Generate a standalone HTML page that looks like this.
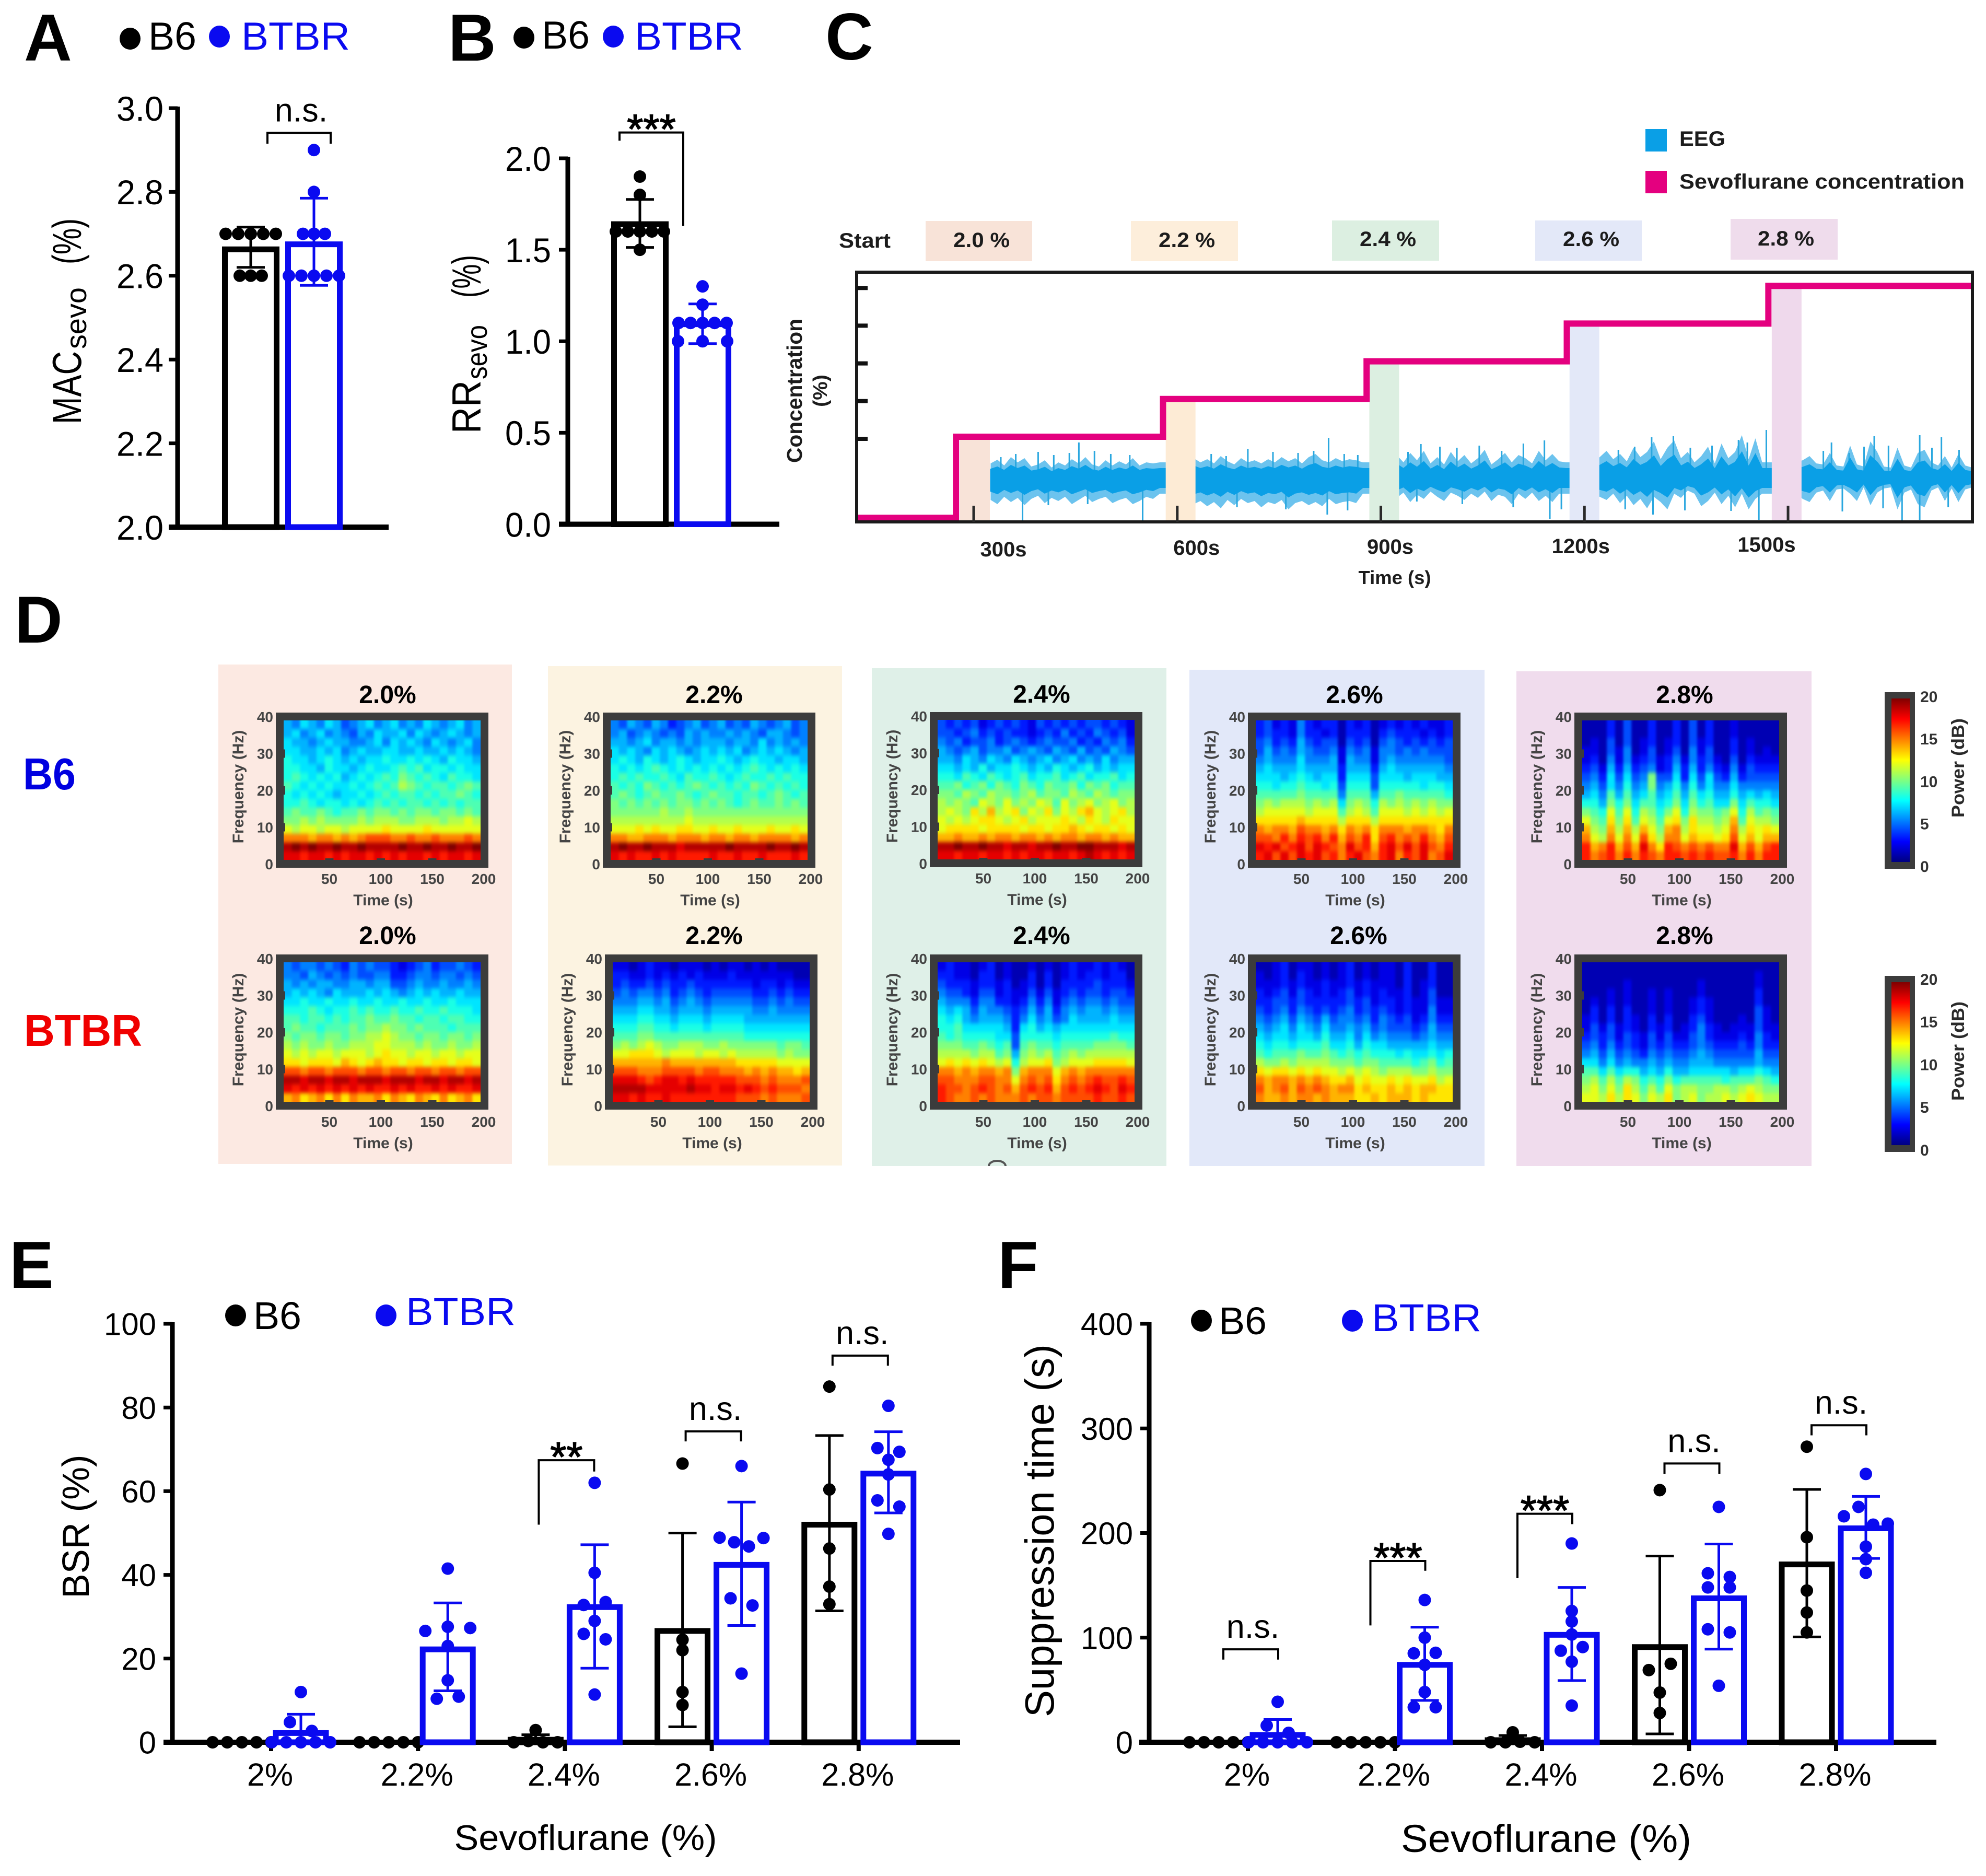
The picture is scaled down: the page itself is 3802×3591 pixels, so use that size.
<!DOCTYPE html>
<html lang="en">
<head>
<meta charset="utf-8">
<title>Sevoflurane sensitivity figure</title>
<style>
html,body{margin:0;padding:0;background:#fff;}
svg{display:block;font-family:"Liberation Sans",Arial,sans-serif;}
</style>
</head>
<body>
<svg id="figure" xmlns="http://www.w3.org/2000/svg" width="3802" height="3591" viewBox="0 0 3802 3591">
<defs>
<linearGradient id="jetGradient" x1="0" y1="0" x2="0" y2="1">
<stop offset="0" stop-color="#800000"/><stop offset="0.125" stop-color="#ff0000"/><stop offset="0.375" stop-color="#ffff00"/><stop offset="0.625" stop-color="#00ffff"/><stop offset="0.875" stop-color="#0000ff"/><stop offset="1" stop-color="#000080"/>
</linearGradient>
<filter id="specBlur" x="-5%" y="-5%" width="110%" height="110%" color-interpolation-filters="sRGB"><feGaussianBlur stdDeviation="2.5 4"/></filter>
</defs>
<rect width="3802" height="3591" fill="#fff"/>

<g font-weight="700" font-size="127" fill="#000">
<text x="46" y="116">A</text>
<text x="858" y="116">B</text>
<text x="1580" y="114">C</text>
<text x="28" y="1230">D</text>
<text x="18" y="2465">E</text>
<text x="1910" y="2465">F</text>
</g>

<g font-size="75">
<ellipse cx="249" cy="74" rx="20" ry="21" fill="#000"/>
<text x="284" y="95" textLength="92" lengthAdjust="spacingAndGlyphs">B6</text>
<ellipse cx="420" cy="70" rx="20" ry="21" fill="#0a0af0"/>
<text x="462" y="95" fill="#0a0af0" textLength="208" lengthAdjust="spacingAndGlyphs">BTBR</text>
</g>
<g font-size="75">
<ellipse cx="1003" cy="72" rx="20" ry="21" fill="#000"/>
<text x="1037" y="93" textLength="92" lengthAdjust="spacingAndGlyphs">B6</text>
<ellipse cx="1174" cy="70" rx="20" ry="21" fill="#0a0af0"/>
<text x="1215" y="95" fill="#0a0af0" textLength="208" lengthAdjust="spacingAndGlyphs">BTBR</text>
</g>
<g font-size="74">
<ellipse cx="451" cy="2518" rx="20" ry="21" fill="#000"/>
<text x="485" y="2544" textLength="92" lengthAdjust="spacingAndGlyphs">B6</text>
<ellipse cx="739" cy="2518" rx="20" ry="21" fill="#0a0af0"/>
<text x="777" y="2536" fill="#0a0af0" textLength="210" lengthAdjust="spacingAndGlyphs">BTBR</text>
</g>
<g font-size="74">
<ellipse cx="2300" cy="2528" rx="20" ry="21" fill="#000"/>
<text x="2333" y="2554" textLength="92" lengthAdjust="spacingAndGlyphs">B6</text>
<ellipse cx="2589" cy="2528" rx="20" ry="21" fill="#0a0af0"/>
<text x="2626" y="2548" fill="#0a0af0" textLength="210" lengthAdjust="spacingAndGlyphs">BTBR</text>
</g>

<g>
<text transform="translate(155,812) rotate(-90)" font-size="78" textLength="140" lengthAdjust="spacingAndGlyphs">MAC</text>
<text transform="translate(165,668) rotate(-90)" font-size="56" textLength="118" lengthAdjust="spacingAndGlyphs">sevo</text>
<text transform="translate(155,506) rotate(-90)" font-size="78" textLength="88" lengthAdjust="spacingAndGlyphs">(%)</text>
</g>
<g>
<text transform="translate(920,830) rotate(-90)" font-size="78" textLength="102" lengthAdjust="spacingAndGlyphs">RR</text>
<text transform="translate(932,726) rotate(-90)" font-size="56" textLength="104" lengthAdjust="spacingAndGlyphs">sevo</text>
<text transform="translate(920,570) rotate(-90)" font-size="78" textLength="82" lengthAdjust="spacingAndGlyphs">(%)</text>
</g>
<text transform="translate(170,2922) rotate(-90)" font-size="72" text-anchor="middle" textLength="275" lengthAdjust="spacingAndGlyphs">BSR (%)</text>
<text transform="translate(2017,2930) rotate(-90)" font-size="78" text-anchor="middle" textLength="714" lengthAdjust="spacingAndGlyphs">Suppression time (s)</text>
<text x="1121" y="3541" font-size="68" text-anchor="middle" textLength="503" lengthAdjust="spacingAndGlyphs">Sevoflurane (%)</text>
<text x="2960" y="3545" font-size="74" text-anchor="middle" textLength="556" lengthAdjust="spacingAndGlyphs">Sevoflurane (%)</text>

<g font-weight="700" font-size="40" fill="#1c1c1c">
<rect x="3150" y="247" width="41" height="43" fill="#0a9fe6"/>
<text x="3215" y="279" textLength="88" lengthAdjust="spacingAndGlyphs">EEG</text>
<rect x="3150" y="327" width="41" height="43" fill="#e4007f"/>
<text x="3215" y="361" textLength="546" lengthAdjust="spacingAndGlyphs">Sevoflurane concentration</text>
<text x="1606" y="474" textLength="99" lengthAdjust="spacingAndGlyphs">Start</text>
<rect x="1772" y="423" width="204" height="77" fill="#f8e3d8"/>
<text x="1879" y="473" text-anchor="middle" textLength="108" lengthAdjust="spacingAndGlyphs">2.0 %</text>
<rect x="2165" y="423" width="205" height="77" fill="#fdeedb"/>
<text x="2272" y="473" text-anchor="middle" textLength="108" lengthAdjust="spacingAndGlyphs">2.2 %</text>
<rect x="2550" y="422" width="205" height="77" fill="#dcefe1"/>
<text x="2657" y="471" text-anchor="middle" textLength="108" lengthAdjust="spacingAndGlyphs">2.4 %</text>
<rect x="2939" y="422" width="204" height="77" fill="#e3e8f8"/>
<text x="3046" y="471" text-anchor="middle" textLength="108" lengthAdjust="spacingAndGlyphs">2.6 %</text>
<rect x="3313" y="419" width="205" height="78" fill="#efdcec"/>
<text x="3419" y="470" text-anchor="middle" textLength="108" lengthAdjust="spacingAndGlyphs">2.8 %</text>
<text x="2670" y="1118" font-size="36" text-anchor="middle" textLength="139" lengthAdjust="spacingAndGlyphs">Time (s)</text>
<text transform="translate(1535,748) rotate(-90)" font-size="41" text-anchor="middle" textLength="276" lengthAdjust="spacingAndGlyphs">Concentration</text>
<text transform="translate(1583,748) rotate(-90)" font-size="38" text-anchor="middle" textLength="62" lengthAdjust="spacingAndGlyphs">(%)</text>
</g>

<g>
<rect x="418" y="1272" width="562" height="956" fill="#fce9e2"/>
<rect x="1049" y="1275" width="563" height="956" fill="#fcf3e1"/>
<rect x="1669" y="1279" width="564" height="953" fill="#dff0e8"/>
<rect x="2277" y="1282" width="565" height="950" fill="#e2e8f9"/>
<rect x="2903" y="1285" width="565" height="947" fill="#f0dced"/>
<path d="M1893 2232 A16 10 0 0 1 1925 2232" fill="none" stroke="#555" stroke-width="4"/>
</g>
<text x="44" y="1511" font-size="85" font-weight="700" fill="#0000e0" textLength="101" lengthAdjust="spacingAndGlyphs">B6</text>
<text x="46" y="2002" font-size="85" font-weight="700" fill="#f00000" textLength="226" lengthAdjust="spacingAndGlyphs">BTBR</text>
</svg>

<script>
/* ---------- Panel A data ---------- */
const aCategories = ['MAC'];
const aTickLabels = ['2.0','2.2','2.4','2.6','2.8','3.0'];
const aB6Mean = [2.663];
const aB6ErrHigh = [2.716];
const aB6ErrLow = [2.62];
const aB6Points = [[2.7,2.7,2.7,2.7,2.7,2.6,2.6,2.6]];
const aBtbrMean = [2.675];
const aBtbrErrHigh = [2.785];
const aBtbrErrLow = [2.577];
const aBtbrPoints = [[2.9,2.8,2.7,2.7,2.7,2.6,2.6,2.6,2.6,2.6]];
const aBrackets = [{cat:0,label:'n.s.',top:2.941,left:2.915,right:2.915}];

/* ---------- Panel B data ---------- */
const bCategories = ['RR'];
const bTickLabels = ['0.0','0.5','1.0','1.5','2.0'];
const bB6Mean = [1.64];
const bB6ErrHigh = [1.775];
const bB6ErrLow = [1.513];
const bB6Points = [[1.9,1.8,1.6,1.6,1.6,1.6,1.6,1.5]];
const bBtbrMean = [1.093];
const bBtbrErrHigh = [1.204];
const bBtbrErrLow = [0.987];
const bBtbrPoints = [[1.3,1.2,1.1,1.1,1.1,1.1,1.1,1.0,1.0,1.0]];
const bBrackets = [{cat:0,label:'***',top:2.141,left:2.096,right:1.63}];

/* ---------- Panel E data ---------- */
const eCategories = ['2%','2.2%','2.4%','2.6%','2.8%'];
const eTickLabels = ['0','20','40','60','80','100'];
const eB6Mean = [0,0,0.6,26.6,52];
const eB6ErrHigh = [0,0,1.8,50,73.3];
const eB6ErrLow = [0,0,0,3.7,31.4];
const eB6Points = [[0,0,0,0,0],[0,0,0,0,0],[2.9,0,0.3,0,0],[66.6,24.5,22,12,8.9],[85,60.4,46.3,37.2,33]];
const eBtbrMean = [2.2,22.2,32.3,42.4,64.2];
const eBtbrErrHigh = [6.7,33.3,47.2,57.4,74.2];
const eBtbrErrLow = [0,12.3,17.7,27.9,54.8];
const eBtbrPoints = [
  [12,4.8,2.7,0,0,0,0,0],
  [41.5,26.6,27.6,27.3,23,14.8,10.4,10.9],
  [62,40.5,32.8,33.5,29,25.9,24.6,11.4],
  [66,48.9,47.8,46.8,48.8,34.4,32.7,16.4],
  [80.4,70.3,69.4,67.5,64,57.8,56.3,49.8]
];
const eBrackets = [
  {cat:2,label:'**',top:67.4,left:52,right:64.7},
  {cat:3,label:'n.s.',top:74.3,left:71.9,right:71.9},
  {cat:4,label:'n.s.',top:92.4,left:90,right:90}
];

/* ---------- Panel F data ---------- */
const fCategories = ['2%','2.2%','2.4%','2.6%','2.8%'];
const fTickLabels = ['0','100','200','300','400'];
const fB6Mean = [0,0,2,91,170];
const fB6ErrHigh = [0,0,6.5,178,241.7];
const fB6ErrLow = [0,0,0,8,100.7];
const fB6Points = [[0,0,0,0,0],[0,0,0,0,0],[9.5,0,0,0.5,0],[241,69,75,47.5,28],[282.5,196,145,124,105]];
const fBtbrMean = [7,74,102.7,137.6,204.5];
const fBtbrErrHigh = [21.7,110,148,189.5,235];
const fBtbrErrLow = [0,40,59,89,175.7];
const fBtbrPoints = [
  [38.7,16,9,0,0,0,0,0],
  [136,100,85,85.5,74,48,33.5,33.5],
  [190,115.5,125.5,103,87.5,91,77,35],
  [225,161.5,158,148,148,108,105,54],
  [256.5,216,225,208,209,187,175,162]
];
const fBrackets = [
  {cat:0,label:'n.s.',top:88.8,left:79,right:79},
  {cat:1,label:'***',top:173.3,left:111.7,right:163.9},
  {cat:2,label:'***',top:218.4,left:156.8,right:208.5},
  {cat:3,label:'n.s.',top:266.5,left:256.7,right:256.7},
  {cat:4,label:'n.s.',top:303,left:293.4,right:293.4}
];

/* ---------- Panel C data ---------- */
const concTickValues = [2.0,2.2,2.4,2.6,2.8];
const sevoTimes = [128,274,579,879,1174,1471,1771];
const sevoLevels = [1.57,2.0,2.2,2.4,2.6,2.8];
const timeTickValues = [300,600,900,1200,1500];
const timeTickLabels = ['300s','600s','900s','1200s','1500s'];
const stageStartTimes = [280,583,883,1178,1476];
const eegUpper = [28,35,24,40,30,38,22,26,34,20,30,24,36,28,40,26,22,34,24,32,26,38,24,30,28,
30,30,30,30,30,
38,30,36,28,42,32,26,38,30,34,28,36,30,40,32,38,28,40,46,34,30,38,32,36,34,
30,30,30,30,30,
44,30,48,34,52,28,40,26,50,32,44,28,38,54,26,36,48,30,44,38,28,52,34,46,32,
30,30,30,30,30,
40,52,36,46,32,58,40,50,70,36,58,72,38,50,30,42,60,28,66,38,50,82,36,76,
30,30,30,30,30,30,
34,42,28,26,48,24,22,62,26,22,70,50,22,20,58,24,20,48,54,30,24,42,20,46,24,20];
const eegLower = [-42,-50,-36,-46,-38,-52,-40,-34,-48,-38,-44,-36,-50,-42,-34,-46,-40,-36,-48,-42,-38,-50,-44,-36,-40,
-30,-30,-30,-30,-30,
-50,-44,-54,-46,-58,-42,-52,-40,-48,-44,-56,-46,-50,-42,-60,-48,-44,-52,-46,-54,-40,-50,-46,-44,-48,
-30,-30,-30,-30,-30,
-38,-28,-46,-32,-40,-26,-36,-44,-28,-34,-42,-30,-38,-26,-44,-32,-36,-50,-30,-40,-28,-44,-34,-46,-30,
-30,-30,-30,-30,-30,
-36,-42,-30,-48,-34,-52,-40,-58,-36,-46,-60,-30,-38,-24,-30,-54,-44,-28,-50,-34,-56,-30,-60,-40,
-30,-30,-30,-30,-30,-30,
-40,-46,-28,-24,-44,-22,-20,-30,-44,-18,-52,-28,-20,-18,-60,-28,-22,-50,-56,-24,-18,-44,-20,-46,-22,-18];
const eegSpikeTimes = [455,823,959,987,1299,1331,1427,1468,1564,1627,1694,1726,372,549,821,851,953,1149,1166,1301,1416,1457,1668,1694,340,362,395,418,441,478,502,530,650,672,704,741,778,801,846,866,940,1012,1045,1078,1110,1141,1250,1274,1356,1388,1440,1552,1590,1612,1648,1712,1752,410,468,688,760,1020,1095,1260,1348,1580,1640,1736];
const eegSpikeValues = [68,77,65,60,78,80,73,92,68,80,82,78,-82,-82,-70,-62,-45,-78,-60,-70,-63,-80,-82,-80,40,46,50,44,48,52,46,44,46,42,56,50,48,52,46,44,50,58,62,52,66,72,54,60,58,62,68,52,48,60,62,58,54,-52,-50,-56,-60,-50,-56,-60,-62,-64,-58,-56];

/* ---------- Panel D heatmap data (dB, rows 40 Hz to 0 Hz, columns 0 to 200 s) ---------- */
const specTickFreq = ['40','30','20','10','0'];
const specTickTime = ['50','100','150','200'];
const colorbarLabels = ['20','15','10','5','0'];
const specB6_20 = [
[6,5,7,6,5,7,6,4,5,6,7,5,6,7,5,6,5,7,6,5,6,7,5,6],
[6,7,5,6,7,5,6,5,4,6,5,7,6,6,7,5,7,6,5,6,7,6,5,6],
[7,6,6,5,6,7,6,6,5,5,6,7,5,7,6,7,6,5,7,6,5,6,7,5],
[7,7,6,6,7,6,7,5,6,7,6,6,7,7,6,6,7,6,6,7,6,7,6,5],
[8,7,7,6,7,8,7,6,7,6,7,7,8,7,7,8,7,8,7,6,8,7,7,6],
[8,8,7,7,6,8,7,7,6,7,8,7,7,8,9,8,9,7,8,8,7,8,7,7],
[8,9,8,7,8,7,8,6,7,8,7,8,9,8,10,9,8,9,8,7,9,8,8,7],
[9,8,7,8,7,8,7,7,8,7,8,9,8,9,11,10,9,8,9,9,8,9,10,9],
[8,7,8,7,8,7,6,7,7,8,7,8,9,8,9,9,8,9,8,9,9,10,9,8],
[8,8,9,8,7,8,8,7,8,7,8,9,8,9,8,9,9,8,9,8,9,8,9,9],
[9,10,9,9,10,9,8,9,9,10,9,10,10,9,10,9,10,10,9,10,10,9,10,9],
[10,10,11,10,11,10,10,10,10,11,10,11,11,11,10,10,11,11,11,10,11,11,12,11],
[12,11,12,12,11,12,12,11,12,12,12,12,13,12,12,12,12,13,12,12,12,12,12,12],
[15,15,15,14,15,15,14,15,14,15,16,16,16,15,15,16,15,15,16,15,15,15,16,15],
[19,20,19,20,19,19,20,19,19,20,19,19,19,19,20,19,19,20,19,19,20,19,19,20],
[18,18,17,18,18,17,18,17,18,18,17,18,17,18,17,18,18,17,18,17,18,18,17,18]];
const specB6_22 = [
[5,4,6,5,4,6,5,3,4,5,6,4,5,6,4,5,4,6,5,4,5,6,4,5],
[5,6,4,5,6,5,4,5,4,6,5,6,5,5,6,5,6,5,4,6,6,5,4,5],
[6,6,5,6,7,5,6,6,5,6,5,6,6,6,5,6,6,5,7,5,6,5,6,5],
[7,6,7,6,5,7,6,7,6,5,6,7,6,7,6,7,5,6,7,6,7,6,5,6],
[7,8,7,6,8,7,6,7,8,7,6,7,7,8,7,6,7,8,7,7,6,7,7,6],
[8,7,8,7,8,9,8,7,8,7,8,7,8,7,8,7,8,9,8,7,8,7,8,7],
[8,9,8,9,8,8,9,8,7,9,8,8,9,8,7,8,9,8,8,9,8,9,8,8],
[9,8,9,8,10,9,8,9,8,9,10,9,8,9,8,9,8,10,9,8,9,8,9,8],
[9,10,9,8,9,10,9,9,10,9,8,9,10,9,9,8,9,9,8,9,10,9,8,9],
[10,9,10,9,10,9,10,9,10,10,9,10,9,10,9,8,9,10,9,9,10,9,10,9],
[10,10,10,10,10,10,11,10,10,11,10,10,10,10,10,10,10,10,10,10,10,10,10,10],
[11,11,11,11,11,11,11,11,11,12,11,11,11,11,11,11,11,11,11,11,11,11,11,11],
[12,12,12,13,12,13,12,12,13,13,12,12,13,12,12,13,12,12,12,13,12,12,13,12],
[15,15,14,14,15,15,15,14,15,15,15,14,15,15,14,15,15,14,15,15,15,15,14,15],
[19,20,19,19,20,19,19,19,18,19,19,19,19,19,20,19,19,19,19,20,19,19,20,19],
[18,17,18,17,17,18,17,18,17,17,17,17,18,17,17,18,17,17,18,17,17,17,18,17]];
const specB6_24 = [
[4,3,4,3,4,2,3,4,3,4,3,2,4,3,4,3,4,3,4,4,3,4,3,2],
[4,4,3,4,5,3,4,3,4,3,3,2,3,4,3,5,3,4,3,5,4,3,4,2],
[5,4,5,3,4,4,5,3,4,5,4,3,4,5,4,4,5,3,4,3,5,4,5,3],
[6,5,4,5,6,4,5,5,6,4,5,6,5,4,6,5,4,6,4,5,4,6,5,4],
[6,6,5,7,6,5,7,6,5,7,6,5,6,7,5,6,7,5,6,5,7,5,6,6],
[7,7,6,7,6,8,6,7,7,8,7,6,7,6,8,7,6,7,8,6,7,6,7,7],
[8,8,7,9,8,7,9,8,7,8,9,7,8,8,9,7,8,9,7,8,8,9,7,8],
[9,9,10,8,9,10,8,10,9,8,10,9,8,10,9,9,10,8,10,9,10,8,9,9],
[10,10,9,11,10,9,11,10,10,9,10,11,9,10,10,9,11,10,9,11,10,9,10,10],
[11,10,11,10,9,12,11,10,12,10,11,10,12,11,9,12,10,11,12,10,11,12,10,11],
[11,12,11,10,13,11,14,11,12,13,10,12,11,13,10,12,11,13,14,12,11,12,13,11],
[12,11,12,11,12,13,13,12,11,12,13,11,12,12,12,13,12,11,13,12,11,13,12,12],
[12,13,13,13,13,12,13,13,13,13,12,13,13,12,13,13,14,13,12,13,13,12,13,12],
[14,14,15,14,14,15,14,15,15,14,15,15,14,15,14,15,15,14,15,15,14,15,14,14],
[19,19,20,19,19,20,19,19,18,19,19,18,19,19,20,19,19,20,20,19,19,19,18,19],
[18,18,17,18,18,17,18,18,17,18,17,18,18,17,18,18,17,18,19,18,17,18,17,18]];
const specB6_26 = [
[3,4,2,3,2,5,3,2,3,3,1,3,2,3,1,2,3,2,3,2,3,2,2,3],
[3,4,3,3,2,5,3,3,2,3,1,3,3,3,1,3,4,3,3,3,2,3,2,3],
[4,5,3,4,3,6,4,3,4,4,1,4,3,4,1,4,5,4,3,4,3,4,3,4],
[4,6,4,5,4,6,5,4,4,5,2,5,4,5,2,5,5,4,5,4,5,4,4,4],
[5,6,5,5,5,7,5,5,5,6,2,6,5,5,2,5,6,5,5,5,5,5,5,4],
[6,7,6,6,6,7,6,6,6,6,3,6,6,6,3,6,7,6,6,6,6,6,6,5],
[7,7,7,6,7,8,7,6,7,7,3,7,7,7,4,7,7,7,6,7,7,7,6,6],
[8,8,7,8,8,9,8,8,7,8,4,8,8,8,4,8,8,8,8,8,7,8,8,7],
[9,9,9,9,9,10,9,9,9,9,5,9,9,9,6,9,9,10,9,9,9,9,9,8],
[10,11,10,11,11,11,10,11,10,11,7,10,11,10,8,11,10,11,10,11,10,11,10,10],
[11,12,12,12,12,12,11,12,12,12,9,11,12,11,9,12,12,12,11,12,11,12,11,12],
[13,13,13,13,13,14,13,13,13,13,11,13,13,13,11,13,13,13,13,13,13,13,13,13],
[15,14,15,15,14,16,15,15,14,15,13,15,14,15,13,15,15,15,14,15,15,14,13,15],
[16,16,15,17,15,17,16,17,15,17,14,16,15,17,13,16,17,15,16,15,17,15,14,16],
[18,17,18,16,17,18,16,18,17,16,15,18,16,17,14,17,18,16,18,16,18,16,15,17],
[17,18,16,18,16,18,17,18,16,17,15,17,18,16,15,17,18,15,17,16,18,15,16,18]];
const specB6_28 = [
[1,1,1,3,1,4,1,1,3,1,1,3,1,4,1,3,1,1,2,1,1,1,1,1],
[1,1,1,3,1,4,1,1,3,1,1,3,1,4,1,3,1,1,2,1,1,1,1,1],
[1,2,1,4,1,4,1,2,3,1,2,3,1,4,2,3,1,1,3,1,2,1,1,1],
[2,2,1,4,2,5,1,2,4,1,2,4,1,5,2,4,1,1,3,1,2,1,2,1],
[2,3,1,5,2,5,2,3,4,2,3,5,2,5,3,4,2,1,4,1,3,2,2,2],
[3,4,2,6,3,6,3,4,5,2,3,6,3,6,3,5,3,2,5,2,4,3,3,3],
[4,5,3,7,4,7,4,5,10,4,4,7,3,7,4,7,4,3,6,3,4,4,4,4],
[5,6,4,7,5,8,5,6,10,5,6,8,5,8,5,7,5,5,7,5,5,5,5,5],
[6,7,5,9,6,9,6,7,9,6,7,9,6,9,7,8,6,6,8,6,7,6,7,6],
[8,8,6,10,8,10,7,9,9,7,8,10,7,10,8,9,7,7,10,7,9,8,8,7],
[10,9,8,12,9,12,8,11,10,8,10,12,8,11,10,10,9,10,12,8,11,9,10,9],
[12,10,9,13,10,13,9,12,11,9,12,13,10,13,11,11,10,11,14,9,12,11,11,10],
[14,11,10,14,11,14,11,14,12,10,14,15,11,13,12,12,11,12,15,11,13,12,13,12],
[15,12,11,15,12,15,12,16,13,11,15,15,12,14,13,13,12,13,16,12,14,12,14,14],
[17,14,15,17,14,16,14,18,15,13,17,16,15,16,15,16,15,15,18,14,16,14,16,17],
[17,15,16,17,15,17,15,17,16,15,17,17,16,17,16,17,16,16,17,15,17,15,17,17]];
const specBTBR_20 = [
[5,4,5,5,4,5,4,3,5,4,5,4,4,3,2,3,4,5,3,4,4,5,4,3],
[5,5,4,6,5,4,5,4,5,4,4,5,5,3,3,4,5,5,4,5,5,4,5,4],
[6,5,6,5,6,6,5,5,6,6,5,6,6,4,4,5,6,5,5,6,5,5,6,5],
[6,7,6,7,6,5,7,6,6,6,7,6,7,6,5,6,7,6,7,6,6,7,6,6],
[7,7,8,7,7,8,7,7,8,7,7,8,7,7,8,7,7,8,7,7,8,7,7,7],
[8,8,8,9,8,7,8,8,9,8,9,8,8,9,8,8,9,8,8,9,8,8,8,7],
[9,9,8,9,9,8,9,8,9,9,10,9,9,10,9,9,8,9,9,8,9,9,8,8],
[9,10,9,9,8,9,9,9,10,9,10,10,11,10,10,9,10,9,9,9,8,9,9,9],
[10,9,10,10,9,10,10,9,10,10,11,11,12,11,10,10,9,10,10,9,10,10,9,10],
[11,10,11,10,10,11,10,10,11,11,11,12,12,11,11,11,10,11,10,10,11,10,10,11],
[12,11,12,11,12,12,11,12,12,12,11,12,13,12,12,11,12,12,11,12,12,11,12,12],
[13,13,12,13,13,13,12,14,13,12,13,14,13,13,12,13,13,12,13,13,12,13,13,12],
[16,16,15,16,16,15,16,16,16,15,16,16,15,16,16,15,16,16,15,16,16,15,16,16],
[19,19,18,19,19,18,19,19,18,19,19,19,18,19,19,19,18,19,19,18,19,19,18,19],
[18,17,18,17,18,17,18,17,18,17,18,17,17,18,17,18,17,17,18,17,18,17,17,18],
[14,15,13,14,15,13,15,13,15,14,14,15,13,15,14,13,15,14,13,15,13,14,15,13]];
const specBTBR_22 = [
[2,2,1,2,3,2,2,1,2,2,2,1,2,1,2,2,1,2,1,2,1,1,1,1],
[3,3,2,2,3,2,3,2,3,2,3,2,2,2,3,2,2,2,2,2,2,2,1,1],
[3,4,3,3,4,3,4,3,3,4,3,3,3,3,3,3,3,2,3,3,2,3,2,2],
[4,5,4,5,5,4,5,3,4,5,4,3,4,4,4,4,4,3,3,4,3,4,3,3],
[5,5,5,6,6,5,6,4,5,6,5,4,5,5,5,5,5,4,4,5,4,5,4,4],
[6,6,6,7,7,6,6,5,6,6,6,5,6,6,6,6,6,5,5,6,5,5,5,5],
[7,7,7,8,8,7,7,6,7,7,7,6,7,7,7,7,6,6,6,6,6,6,6,6],
[8,8,8,9,9,8,8,7,8,8,8,7,8,8,8,8,7,7,7,7,7,7,7,7],
[9,9,9,10,10,9,9,9,9,9,9,9,9,9,9,9,8,8,8,8,8,8,8,8],
[10,11,10,11,12,11,10,10,11,11,11,10,10,11,10,10,10,10,10,10,9,10,10,9],
[12,12,13,13,13,12,11,12,12,12,11,12,12,11,12,11,11,11,11,11,10,11,10,10],
[14,14,14,14,14,14,15,14,14,14,14,14,14,14,14,13,13,13,13,13,12,12,12,12],
[16,16,16,15,15,15,16,16,16,16,15,16,16,15,15,15,14,15,14,15,14,14,13,14],
[18,18,18,17,16,17,18,18,17,18,17,17,17,17,17,16,16,16,15,16,15,15,15,16],
[19,19,19,19,18,18,18,18,18,19,18,18,17,18,18,17,18,17,16,17,16,16,16,15],
[18,18,17,18,17,17,18,17,17,17,17,17,17,17,17,16,16,16,15,16,15,15,15,16]];
const specBTBR_24 = [
[2,3,2,2,1,2,3,1,2,1,1,2,1,2,1,2,3,2,2,3,2,3,2,1],
[3,3,2,2,1,3,3,1,2,1,1,3,1,3,1,2,3,2,3,3,2,3,3,1],
[4,3,3,3,2,3,3,2,3,1,2,3,1,3,1,3,3,3,3,4,3,3,3,2],
[5,4,4,3,2,4,4,2,3,2,2,4,2,4,2,3,4,3,4,4,3,4,4,3],
[6,5,5,5,3,5,5,3,3,2,3,5,3,5,2,4,5,4,5,5,4,5,4,4],
[7,6,7,6,4,6,5,5,4,3,4,6,4,6,3,5,6,5,6,6,5,6,5,5],
[8,7,8,6,5,6,6,6,5,3,5,7,5,6,4,5,7,6,6,6,6,7,6,6],
[8,8,9,7,7,7,7,7,6,3,7,8,6,7,6,7,7,7,7,7,7,7,7,7],
[9,8,9,8,8,8,8,7,7,4,8,8,8,8,7,8,8,8,8,8,8,9,8,8],
[10,10,10,9,9,10,9,8,9,4,9,10,9,9,8,9,9,9,9,10,10,10,10,9],
[11,11,11,11,10,11,11,9,10,6,10,11,10,11,9,10,11,10,11,11,11,11,11,11],
[12,13,12,13,12,13,12,11,12,8,11,12,12,13,10,11,12,12,12,13,13,13,13,12],
[15,15,14,15,14,15,15,14,15,10,14,15,15,15,12,14,15,14,15,15,15,15,15,15],
[16,16,15,15,15,16,16,15,15,12,15,16,15,16,13,15,16,15,16,17,16,16,17,16],
[17,16,16,15,16,17,16,15,16,14,16,17,16,17,14,16,17,16,17,18,17,16,18,17],
[17,16,15,15,16,15,16,15,15,15,16,15,16,16,15,16,16,16,16,17,16,16,17,16]];
const specBTBR_26 = [
[1,1,2,3,1,2,2,1,2,1,2,3,1,2,1,2,2,1,3,1,1,3,1,1],
[2,1,2,3,1,3,2,1,2,1,2,3,1,2,1,2,2,1,3,1,1,3,1,1],
[2,2,2,3,2,3,2,2,3,2,2,3,2,3,2,2,2,1,3,1,2,3,1,1],
[3,2,3,4,2,4,3,2,3,2,3,4,2,3,2,3,2,2,3,1,2,4,1,1],
[3,3,4,4,3,4,3,3,3,3,3,4,3,4,2,3,3,2,3,2,2,4,2,2],
[4,3,4,5,3,5,4,3,4,3,4,5,3,4,3,4,3,2,3,2,2,5,2,2],
[5,4,5,6,4,6,5,4,6,4,5,5,4,5,3,5,4,3,4,2,3,5,3,3],
[6,5,6,7,5,7,6,5,7,5,5,6,5,6,4,5,4,4,4,3,4,6,4,4],
[7,6,7,7,6,7,7,6,8,6,6,7,5,7,5,6,5,5,5,4,5,6,5,5],
[8,7,8,8,7,8,8,8,9,7,7,8,6,8,7,7,6,6,6,6,6,7,6,6],
[9,8,9,9,9,10,9,9,10,9,8,9,8,9,8,8,8,7,8,7,7,8,7,8],
[11,10,10,11,10,11,11,11,11,10,10,10,9,10,10,9,9,9,9,8,9,10,8,9],
[13,12,13,13,12,13,12,13,12,12,11,12,11,12,11,10,11,11,11,10,10,11,10,10],
[15,14,15,15,14,15,14,15,14,13,13,14,12,13,12,12,13,12,13,12,12,13,11,12],
[16,14,15,16,14,16,15,16,15,14,15,15,13,14,13,13,14,13,14,13,14,14,13,13],
[15,14,14,15,14,15,15,14,15,14,14,14,13,13,14,13,14,14,14,13,14,13,13,13]];
const specBTBR_28 = [
[1,1,1,1,1,1,1,1,1,1,1,1,1,1,1,1,1,1,1,1,1,1,1,1],
[1,1,1,1,1,1,1,1,1,1,1,1,1,1,1,1,1,1,1,1,1,2,1,1],
[1,1,1,1,1,2,1,1,1,1,1,1,1,1,2,1,1,1,1,1,1,2,1,1],
[1,1,1,2,1,2,1,1,2,1,2,1,1,1,2,1,1,1,1,1,1,3,1,1],
[1,2,1,2,1,2,1,1,2,1,2,1,1,2,3,2,1,1,1,1,1,3,1,1],
[1,3,1,3,1,3,1,1,2,1,2,1,1,2,3,2,1,1,1,1,1,4,2,1],
[2,3,1,3,1,3,2,1,3,1,3,1,1,3,4,2,1,1,1,2,1,4,2,1],
[2,4,2,4,2,3,2,1,3,2,3,1,2,3,5,3,2,1,2,2,2,4,2,2],
[3,4,3,4,2,4,3,2,4,2,4,2,2,4,5,3,2,2,2,3,2,5,3,2],
[4,5,3,5,3,4,3,2,4,3,4,3,3,4,5,4,3,3,3,4,3,5,3,3],
[5,6,4,6,4,5,4,3,5,4,5,4,4,5,6,5,4,4,4,4,4,6,4,4],
[7,7,5,7,5,6,5,5,6,5,6,5,5,6,6,6,5,5,5,5,5,6,5,5],
[9,9,7,9,7,8,8,6,7,6,8,6,6,7,7,7,7,7,6,7,7,8,7,6],
[10,11,9,11,9,11,10,8,9,8,10,8,9,9,9,9,9,8,9,9,9,10,9,8],
[11,12,10,12,10,13,11,9,11,9,12,10,11,11,10,10,11,11,10,11,12,11,10,10],
[12,12,11,13,11,13,12,10,12,11,13,10,11,12,10,11,11,12,11,12,13,12,11,11]];

/* ---------- Drawing helpers ---------- */
const NS = 'http://www.w3.org/2000/svg';
const fig = document.getElementById('figure');
const BLACK = '#000000';
const BLUE = '#0a0af0';

function make(tag, attrs, parent) {
  const el = document.createElementNS(NS, tag);
  for (const k in attrs) el.setAttribute(k, attrs[k]);
  (parent || fig).appendChild(el);
  return el;
}
function put(parent, str, x, y, size, attrs) {
  const el = make('text', Object.assign({x: x, y: y, 'font-size': size}, attrs || {}), parent);
  el.textContent = str;
  return el;
}
function jet(v) {
  const t = Math.max(0, Math.min(1, v / 20));
  const ch = c => Math.round(255 * Math.max(0, Math.min(1, 1.5 - Math.abs(4 * t - c))));
  return 'rgb(' + ch(3) + ',' + ch(2) + ',' + ch(1) + ')';
}
/* Beeswarm: neighbouring points of similar height spread sideways in the order listed */
function swarmOffsets(values, scale, c) {
  const out = new Array(values.length).fill(0);
  let i = 0;
  while (i < values.length) {
    let j = i + 1;
    while (j < values.length && Math.abs(scale(values[j]) - scale(values[i])) < c.swarmTol) j++;
    const n = j - i;
    const step = n === 2 ? c.pairStep : n === 3 ? c.triadStep : c.rowStep;
    for (let k = 0; k < n; k++) out[i + k] = (k - (n - 1) / 2) * step;
    i = j;
  }
  return out;
}

/* ---------- Generic bar + scatter chart ---------- */
function drawBarChart(c) {
  const g = make('g', {});
  
  
  const y = v => c.y0 - (v - c.vMin) * (c.y0 - c.yTop) / (c.vMax - c.vMin);

  c.tickLabels.forEach(lbl => {
    const v = Number(lbl);
    const tick = make('line', {x1: c.axisX - c.tickLen, x2: c.axisX, y1: y(v), y2: y(v), stroke: '#000', 'stroke-width': 7}, g);
    
    
    const attrs = {'text-anchor': 'end', fill: '#000'};
    if (c.tickTextLen) { attrs.textLength = c.tickTextLen; attrs.lengthAdjust = 'spacingAndGlyphs'; }
    const t = put(g, lbl, c.tickRight, y(v) + c.tickFont * 0.36, c.tickFont, attrs);
    
    
  });

  const yAxis = make('line', {x1: c.axisX, x2: c.axisX, y1: c.yTop - 3, y2: c.y0 + 4, stroke: '#000', 'stroke-width': 9}, g);
  
  
  const xAxis = make('line', {x1: c.xAxisStart, x2: c.xAxisEnd, y1: c.y0, y2: c.y0, stroke: '#000', 'stroke-width': 10}, g);
  
  

  c.categories.forEach((cat, i) => {
    const cx = c.catX0 + i * c.catStep;
    if (c.showCats) {
      const tick = make('line', {x1: cx, x2: cx, y1: c.y0, y2: c.y0 + 17, stroke: '#000', 'stroke-width': 8}, g);
      
      
      const t = put(g, cat, cx - 2, c.y0 + 83, 61, {'text-anchor': 'middle', fill: '#000'});
      
      
    }
    c.series.forEach(s => {
      const sx = cx + s.offset;
      if (s.mean[i] > c.vMin) {
        const h = y(c.vMin) - y(s.mean[i]);
        const bar = make('rect', {x: sx - c.barW / 2, y: y(s.mean[i]), width: c.barW, height: h, fill: 'none', stroke: s.color, 'stroke-width': c.barStroke}, g);
        
        
      }
      if (s.hi[i] !== s.lo[i]) {
        const yHi = y(s.hi[i]), yLo = y(s.lo[i]);
        const stem = make('line', {x1: sx, x2: sx, y1: yHi, y2: yLo, stroke: s.color, 'stroke-width': 5}, g);
        
        
        const capTop = make('line', {x1: sx - 27, x2: sx + 27, y1: yHi, y2: yHi, stroke: s.color, 'stroke-width': 5}, g);
        
        
        if (s.lo[i] > c.vMin) {
          const capLow = make('line', {x1: sx - 27, x2: sx + 27, y1: yLo, y2: yLo, stroke: s.color, 'stroke-width': 5}, g);
          
          
        }
      }
      const offs = swarmOffsets(s.points[i], y, c);
      s.points[i].forEach((p, k) => {
        const dot = make('circle', {cx: sx + offs[k], cy: y(p), r: c.dotR, fill: s.color}, g);
        
        
      });
    });
  });

  c.brackets.forEach(b => {
    const cx = c.catX0 + b.cat * c.catStep;
    const xl = cx + c.bracketLeft, xr = cx + c.bracketRight;
    const path = make('path', {d: 'M' + xl + ' ' + y(b.left) + 'V' + y(b.top) + 'H' + xr + 'V' + y(b.right), fill: 'none', stroke: '#000', 'stroke-width': 4}, g);
    
    
    const stars = b.label.charAt(0) === '*';
    const t = put(g, b.label, (xl + xr) / 2 + (stars ? 0 : 4), y(b.top) + (stars ? 21 : -22), stars ? 80 : 63, {'text-anchor': 'middle', fill: '#000', 'stroke': stars ? '#000' : 'none', 'stroke-width': stars ? 1.5 : 0});
    
    
  });
}

drawBarChart({
  name: 'panel-a-mac-chart', categories: aCategories, tickLabels: aTickLabels, brackets: aBrackets,
  vMin: 2, vMax: 3, y0: 1009, yTop: 207, axisX: 340, tickLen: 17, tickRight: 313, tickFont: 66, tickTextLen: 90,
  xAxisStart: 323, xAxisEnd: 744, catX0: 540, catStep: 0, showCats: false, barW: 99, barStroke: 11, dotR: 12,
  swarmTol: 14, rowStep: 24, pairStep: 40, triadStep: 21, bracketLeft: -28, bracketRight: 93,
  series: [
    {key: 'b6', color: BLACK, offset: -60, mean: aB6Mean, hi: aB6ErrHigh, lo: aB6ErrLow, points: aB6Points},
    {key: 'btbr', color: BLUE, offset: 61, mean: aBtbrMean, hi: aBtbrErrHigh, lo: aBtbrErrLow, points: aBtbrPoints}
  ]
});
drawBarChart({
  name: 'panel-b-rr-chart', categories: bCategories, tickLabels: bTickLabels, brackets: bBrackets,
  vMin: 0, vMax: 2, y0: 1003.5, yTop: 303, axisX: 1087, tickLen: 17, tickRight: 1055, tickFont: 66, tickTextLen: 88,
  xAxisStart: 1070, xAxisEnd: 1492, catX0: 1286, catStep: 0, showCats: false, barW: 99, barStroke: 11, dotR: 12,
  swarmTol: 14, rowStep: 23, pairStep: 40, triadStep: 47, bracketLeft: -100, bracketRight: 22,
  series: [
    {key: 'b6', color: BLACK, offset: -61, mean: bB6Mean, hi: bB6ErrHigh, lo: bB6ErrLow, points: bB6Points},
    {key: 'btbr', color: BLUE, offset: 59, mean: bBtbrMean, hi: bBtbrErrHigh, lo: bBtbrErrLow, points: bBtbrPoints}
  ]
});
drawBarChart({
  name: 'panel-e-bsr-chart', categories: eCategories, tickLabels: eTickLabels, brackets: eBrackets,
  vMin: 0, vMax: 100, y0: 3335, yTop: 2534, axisX: 330, tickLen: 17, tickRight: 299, tickFont: 60,
  xAxisStart: 313, xAxisEnd: 1838, catX0: 519, catStep: 281.2, showCats: true, barW: 96, barStroke: 11, dotR: 12,
  swarmTol: 19, rowStep: 28, pairStep: 42, triadStep: 43, bracketLeft: -50, bracketRight: 56,
  series: [
    {key: 'b6', color: BLACK, offset: -56, mean: eB6Mean, hi: eB6ErrHigh, lo: eB6ErrLow, points: eB6Points},
    {key: 'btbr', color: BLUE, offset: 57, mean: eBtbrMean, hi: eBtbrErrHigh, lo: eBtbrErrLow, points: eBtbrPoints}
  ]
});
drawBarChart({
  name: 'panel-f-suppression-chart', categories: fCategories, tickLabels: fTickLabels, brackets: fBrackets,
  vMin: 0, vMax: 400, y0: 3335, yTop: 2534, axisX: 2200, tickLen: 17, tickRight: 2169, tickFont: 60,
  xAxisStart: 2181, xAxisEnd: 3707, catX0: 2389, catStep: 281.5, showCats: true, barW: 96, barStroke: 11, dotR: 12,
  swarmTol: 19, rowStep: 28, pairStep: 42, triadStep: 36, bracketLeft: -47, bracketRight: 58,
  series: [
    {key: 'b6', color: BLACK, offset: -56, mean: fB6Mean, hi: fB6ErrHigh, lo: fB6ErrLow, points: fB6Points},
    {key: 'btbr', color: BLUE, offset: 57, mean: fBtbrMean, hi: fBtbrErrHigh, lo: fBtbrErrLow, points: fBtbrPoints}
  ]
});

/* ---------- Panel C: stepped concentration + EEG ---------- */
(function drawPanelC() {
  const g = make('g', {});
  
  
  const tx = t => 1864 + (t - 300) * 1.2992;
  const cy = c => 836 - (c - 2) * 361;
  const ey = v => 915 - v;
  const BOX_TOP = 521, BOX_BOTTOM = 999, BOX_LEFT = 1640, BOX_RIGHT = 3776;

  const box = make('rect', {x: BOX_LEFT, y: BOX_TOP, width: BOX_RIGHT - BOX_LEFT, height: BOX_BOTTOM - BOX_TOP, fill: '#fff'}, g);
  
  

  const n = eegUpper.length;
  const step = (1771 - 325) / (n - 1);
  function envelope(k) {
    let d = '';
    eegUpper.forEach((v, i) => { d += (i ? 'L' : 'M') + tx(325 + i * step).toFixed(1) + ' ' + ey(v * k).toFixed(1) + ' '; });
    for (let i = n - 1; i >= 0; i--) d += 'L' + tx(325 + i * step).toFixed(1) + ' ' + ey(eegLower[i] * k).toFixed(1) + ' ';
    return d + 'Z';
  }
  const eegOuter = make('path', {d: envelope(1), fill: '#6cc3ee'}, g);
  
  
  eegSpikeTimes.forEach((t, i) => {
    const sp = make('line', {x1: tx(t), x2: tx(t), y1: ey(0), y2: ey(eegSpikeValues[i]), stroke: '#2aa7df', 'stroke-width': 3}, g);
    
    
  });
  const eegCore = make('path', {d: envelope(0.6), fill: '#0a9fe6', stroke: '#0a9fe6', 'stroke-width': 2}, g);
  
  

  const stageColors = ['#f8e3d8', '#fdebd5', '#dcefe1', '#e3e8f8', '#efd9ec'];
  stageStartTimes.forEach((t, i) => {
    const top = cy(sevoLevels[i + 1]);
    const band = make('rect', {x: tx(t), y: top, width: 57, height: BOX_BOTTOM - top, fill: stageColors[i]}, g);
    
    
  });

  let p = 'M' + tx(sevoTimes[0]) + ' ' + cy(sevoLevels[0]);
  sevoLevels.forEach((lvl, i) => {
    p += 'V' + cy(lvl) + 'H' + tx(sevoTimes[i + 1]);
  });
  const sevo = make('path', {d: p, fill: 'none', stroke: '#e4007f', 'stroke-width': 12}, g);
  
  

  const frame = make('rect', {x: BOX_LEFT, y: BOX_TOP, width: BOX_RIGHT - BOX_LEFT, height: BOX_BOTTOM - BOX_TOP, fill: 'none', stroke: '#1a1a1a', 'stroke-width': 6}, g);
  
  

  concTickValues.forEach(c => {
    const tick = make('line', {x1: BOX_LEFT, x2: BOX_LEFT + 21, y1: cy(c) + 4, y2: cy(c) + 4, stroke: '#111', 'stroke-width': 8}, g);
    
    
  });
  const labelNudgeX = [57, 37, 18, -7, -41];
  const labelNudgeY = [66, 63, 61, 60, 57];
  timeTickValues.forEach((t, i) => {
    const tick = make('line', {x1: tx(t), x2: tx(t), y1: 968, y2: BOX_BOTTOM, stroke: '#2a2a2a', 'stroke-width': 5}, g);
    
    
    const lab = put(g, timeTickLabels[i], tx(t) + labelNudgeX[i], BOX_BOTTOM + labelNudgeY[i], 40, {'text-anchor': 'middle', 'font-weight': 700, fill: '#1c1c1c'});
    
    
  });
})();

/* ---------- Panel D: spectrograms ---------- */
let clipCounter = 0;
function drawSpectrogram(grid, name, title, fx, fy, titleX, bottomRow) {
  const FW = 407, FH = 297, PAD_X = 15, PAD_TOP = 15, PAD_BOTTOM = 15;
  const g = make('g', {});
  
  

  const frame = make('rect', {x: fx, y: fy, width: FW, height: FH, fill: '#3c3c3c'}, g);
  
  

  const ix = fx + PAD_X, iy = fy + PAD_TOP, iw = FW - 2 * PAD_X, ih = FH - PAD_TOP - PAD_BOTTOM;
  const clipId = 'specClip' + (clipCounter++);
  const clip = make('clipPath', {id: clipId}, g);
  make('rect', {x: ix, y: iy, width: iw, height: ih}, clip);
  const outer = make('g', {'clip-path': 'url(#' + clipId + ')'}, g);
  
  
  const heat = make('g', {filter: 'url(#specBlur)'}, outer);

  const rows = grid.length, cols = grid[0].length;
  const cw = iw / cols, ch = ih / rows;
  grid.forEach((row, r) => {
    row.forEach((v, c) => {
      const x0 = ix + c * cw - (c === 0 ? 30 : 0);
      const y0 = iy + r * ch - (r === 0 ? 30 : 0);
      const w = cw + 0.6 + (c === 0 ? 30 : 0) + (c === cols - 1 ? 30 : 0);
      const h = ch + 0.6 + (r === 0 ? 30 : 0) + (r === rows - 1 ? 30 : 0);
      const cell = make('rect', {x: x0, y: y0, width: w, height: h, fill: jet(v)}, heat);
      
      
    });
  });

  const extra = bottomRow ? 2 : 0;
  const ttl = put(g, title, titleX, fy - 18 - extra, 48, {'text-anchor': 'middle', 'font-weight': 700, fill: '#000'});
  
  

  specTickFreq.forEach((lbl, i) => {
    const yy = fy + 8 + i * 70.5;
    const t = put(g, lbl, fx - 5, yy + 10, 28, {'text-anchor': 'end', 'font-weight': 700, fill: '#444'});
    
    
    if (i > 0 && i < 4) {
      const tk = make('rect', {x: fx + PAD_X - 3, y: yy - 8, width: 6, height: 16, fill: '#3c3c3c'}, g);
      
      
    }
  });
  specTickTime.forEach(lbl => {
    const xx = fx + 4 + Number(lbl) * 1.97;
    const t = put(g, lbl, xx, fy + 328 + extra, 28, {'text-anchor': 'middle', 'font-weight': 700, fill: '#444'});
    
    
    if (lbl !== '200') {
      const tk = make('rect', {x: xx - 8, y: fy + FH - PAD_BOTTOM - 3, width: 16, height: 5, fill: '#3c3c3c'}, g);
      
      
    }
  });
  const xt = put(g, 'Time (s)', fx + FW / 2 + 2, fy + 369 + extra, 30, {'text-anchor': 'middle', 'font-weight': 700, fill: '#444'});
  
  
  const yt = put(g, 'Frequency (Hz)', 0, 0, 30, {'text-anchor': 'middle', 'font-weight': 700, fill: '#444', transform: 'translate(' + (fx - 62) + ',' + (fy + 142 + extra) + ') rotate(-90)'});
  
  
}
drawSpectrogram(specB6_20, 'spectrogram-b6-2-0', '2.0%', 528, 1364, 742, false);
drawSpectrogram(specB6_22, 'spectrogram-b6-2-2', '2.2%', 1154, 1364, 1367, false);
drawSpectrogram(specB6_24, 'spectrogram-b6-2-4', '2.4%', 1780, 1363, 1994, false);
drawSpectrogram(specB6_26, 'spectrogram-b6-2-6', '2.6%', 2389, 1364, 2593, false);
drawSpectrogram(specB6_28, 'spectrogram-b6-2-8', '2.8%', 3014, 1364, 3225, false);
drawSpectrogram(specBTBR_20, 'spectrogram-btbr-2-0', '2.0%', 528, 1827, 742, true);
drawSpectrogram(specBTBR_22, 'spectrogram-btbr-2-2', '2.2%', 1158, 1827, 1367, true);
drawSpectrogram(specBTBR_24, 'spectrogram-btbr-2-4', '2.4%', 1780, 1827, 1994, true);
drawSpectrogram(specBTBR_26, 'spectrogram-btbr-2-6', '2.6%', 2389, 1827, 2601, true);
drawSpectrogram(specBTBR_28, 'spectrogram-btbr-2-8', '2.8%', 3014, 1827, 3225, true);

/* ---------- Colour bars ---------- */
function drawColorbar(name, fy, fh, labelTop, labelStep, titleY) {
  const g = make('g', {});
  
  
  const frame = make('rect', {x: 3608, y: fy, width: 58, height: fh, fill: '#3c3c3c'}, g);
  
  
  const ramp = make('rect', {x: 3621, y: fy + 12, width: 35, height: fh - 25, fill: 'url(#jetGradient)'}, g);
  
  
  colorbarLabels.forEach((lbl, i) => {
    const yy = labelTop + i * labelStep;
    const t = put(g, lbl, 3676, yy + 11, 30, {'font-weight': 700, fill: '#333'});
    
    
  });
  const ttl = put(g, 'Power (dB)', 0, 0, 34, {'text-anchor': 'middle', 'font-weight': 700, fill: '#2a2a2a', textLength: 190, lengthAdjust: 'spacingAndGlyphs', transform: 'translate(3760,' + titleY + ') rotate(-90)'});
  
  
}
drawColorbar('colorbar-b6', 1325, 338, 1333, 81.2, 1470);
drawColorbar('colorbar-btbr', 1868, 337, 1874, 81.7, 2012);
</script>
</body>
</html>
